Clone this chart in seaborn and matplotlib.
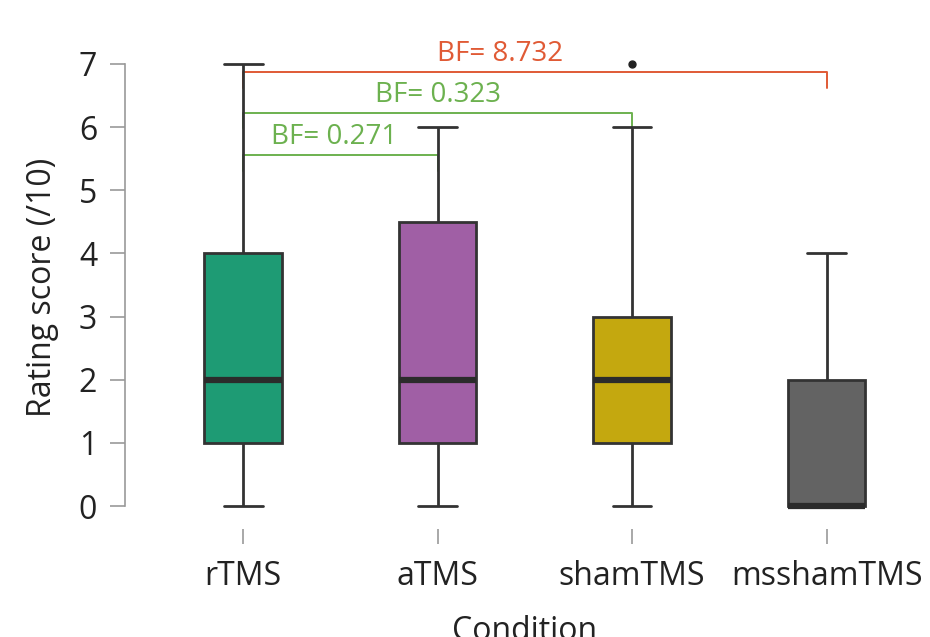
import pandas as pd
import seaborn as sns
import matplotlib.pyplot as plt

# Rating scores per condition (integer ratings out of 10)
conditions = ["rTMS", "aTMS", "shamTMS", "msshamTMS"]
rtms = [0, 1, 1, 1, 2, 2, 2, 3, 4, 4, 5, 7]
atms = [0, 1, 1, 1, 2, 2, 3, 4, 5, 5, 6]
sham = [0, 1, 1, 1, 2, 2, 2, 3, 3, 3, 6, 7]
mssham = [0, 0, 0, 0, 0, 0, 0, 1, 2, 2, 3, 4]
colors = ["#1e9b74", "#a05fa5", "#c4a80f", "#636363"]

# Bayes factor comparisons
bf_pairs = [(0, 1), (0, 2), (0, 3)]
bf_heights = [5.56, 6.23, 6.87]
bf_labels = ["BF= 0.271", "BF= 0.323", "BF= 8.732"]
bf_text_x = [0.47, 1.0, 1.32]
bf_colors = ["#6cb14f", "#6cb14f", "#e05a35"]

df = pd.DataFrame({
    "Condition": sum([[c] * len(v) for c, v in zip(conditions, [rtms, atms, sham, mssham])], []),
    "Score": rtms + atms + sham + mssham,
})

sns.set_style("white")
plt.rcParams['font.family'] = ['Open Sans', 'DejaVu Sans']

fig = plt.figure(figsize=(9.3, 6.37), dpi=100)
ax = fig.add_axes([125 / 930, 108 / 637, 798.75 / 930, 484 / 637])

sns.boxplot(data=df, x="Condition", y="Score", hue="Condition", palette=colors,
            order=conditions, hue_order=conditions, width=0.4, legend=False,
            saturation=1, linecolor="#333333", linewidth=2,
            medianprops=dict(linewidth=4.5, color="#2b2b2b"),
            flierprops=dict(marker="o", markerfacecolor="#222222",
                            markeredgecolor="#222222", markersize=5),
            ax=ax)

# brackets with BF labels
drop = 0.25
for (a, b), h, lab, tx, col in zip(bf_pairs, bf_heights, bf_labels, bf_text_x, bf_colors):
    ax.plot([a, a, b, b], [h - drop, h, h, h - drop], color=col, lw=1.4, zorder=1)
    ax.text(tx, h + 0.06, lab, color=col, ha="center", va="bottom", fontsize=20)

ax.set_xlim(-0.607, 3.5)
ax.set_ylim(-0.364, 7.3)
ax.set_yticks(range(0, 8))

for s in ["top", "right", "bottom"]:
    ax.spines[s].set_visible(False)
ax.spines["left"].set_bounds(0, 7)
ax.spines["left"].set_color("#999999")
ax.spines["left"].set_linewidth(1.2)

ax.tick_params(axis="y", left=True, direction="out", length=11, width=1.2,
               color="#999999", pad=9, labelsize=23, labelcolor="#222222")
ax.tick_params(axis="x", bottom=True, direction="out", length=11, width=1.2,
               color="#999999", pad=11, labelsize=23, labelcolor="#222222")

ax.set_ylabel("Rating score (/10)", fontsize=23, color="#222222", labelpad=14)
ax.set_xlabel("Condition", fontsize=23, color="#222222", labelpad=16)

plt.savefig("out.png", dpi=100)
